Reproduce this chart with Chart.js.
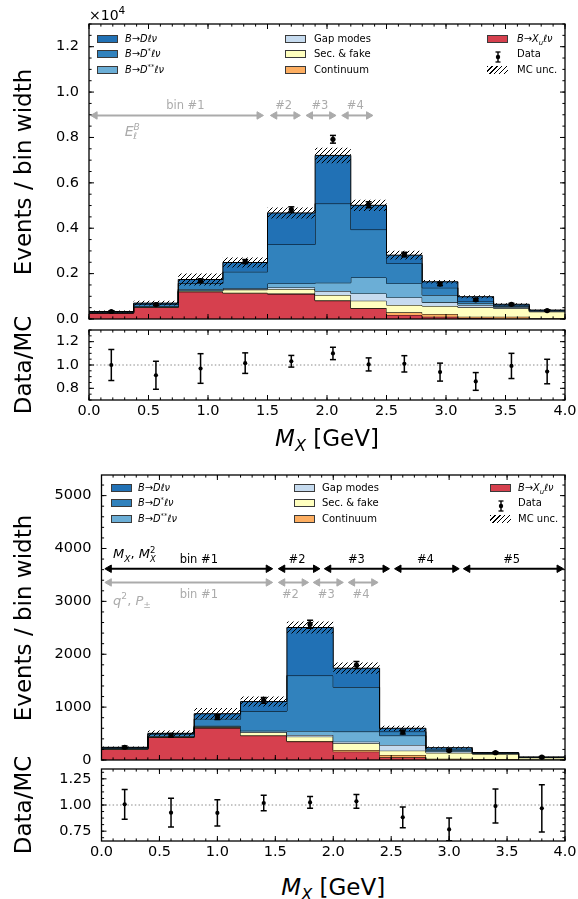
<!DOCTYPE html>
<html>
<head>
<meta charset="utf-8">
<script src="https://cdn.jsdelivr.net/npm/chart.js@4.4.1/dist/chart.umd.min.js"></script>
<style>
html,body{margin:0;padding:0;background:#fff;}
#wrap{position:relative;width:578px;height:899px;overflow:hidden;font-family:'DejaVu Sans',sans-serif;color:#000;}
#wrap canvas{position:absolute;left:0;}
.t{position:absolute;white-space:nowrap;line-height:1;}
.c{transform:translate(-50%,-50%);}
.lm{transform:translate(0,-50%);}
.rot{transform:translate(-50%,-50%) rotate(-90deg);}
.patch{position:absolute;width:21px;height:8px;border:1px solid #3a3a3a;box-sizing:border-box;transform:translateY(-50%);}
.hpatch{position:absolute;width:21px;height:8px;transform:translateY(-50%);background:repeating-linear-gradient(135deg,#000 0 1px,transparent 1px 3.4px);}
.leg{position:absolute;font-size:10px;white-space:nowrap;line-height:1;transform:translateY(-50%);}
.math{font-size:9.8px;}
sup,sub{line-height:0;font-size:70%;}
.ss{display:inline-block;vertical-align:-0.45em;font-size:65%;line-height:1.05;}
.ss span{display:block;}
</style>
</head>
<body>
<div id="wrap">
<canvas id="cA" width="600" height="339" style="top:0px"></canvas>
<canvas id="cAr" width="600" height="116" style="top:310px"></canvas>
<canvas id="cB" width="600" height="325" style="top:455px"></canvas>
<canvas id="cBr" width="600" height="121" style="top:749px"></canvas>
</div>
<script>
// ================= DATA =================
// --- upper figure (12 variable-width bins) ---
const edgesA = [0, 0.375, 0.75, 1.125, 1.5, 1.9, 2.2, 2.5, 2.8, 3.1, 3.4, 3.7, 4.0];
const xuA    = [260, 515, 1200, 1140, 1099,  806,  469, 180, 100,  40,  10,   5];
const contA  = [  5,   5,   10,   20,   25,   20,   20, 113, 120,  60,  90,  25];
const secA   = [ 10,  15,   35,  130,  195,  230,  317, 322, 351, 413, 370, 290];
const gapA   = [ 10,  10,   15,   30,   74,  176,  322, 337, 162, 102,  50,  25];
const dssA   = [ 10,  20,   60,   40,  176,  366,  703, 616, 322,  88,  40,  20];
const dsA    = [ 20,  80,  250,  720, 1714, 3488, 2110, 879, 322,  73,  30,  10];
const dA     = [ 15,  55,  170,  410, 1391, 2123, 1069, 366, 264, 206,  60,  20];
const uncA   = [ 45, 100,  260,  220,  240,  340,  250, 190,  80,  70,  40,  25];
const dataA    = [330, 637, 1690, 2530, 4823, 7920, 5035, 2840, 1541, 844, 645, 373];
const dataErrA = [ 30,  45,   75,   90,  120,  170,  130,  100,   70,  55,  45,  35];
const ratioA    = [1.000, 0.912, 0.970, 1.016, 1.032, 1.099, 1.005, 1.010, 0.939, 0.859, 0.992, 0.944];
const ratioErrA = [0.133, 0.120, 0.127, 0.088, 0.050, 0.053, 0.056, 0.070, 0.077, 0.076, 0.108, 0.105];

// --- lower figure (10 bins of 0.4 GeV) ---
const edgesB = [0, 0.4, 0.8, 1.2, 1.6, 2.0, 2.4, 2.8, 3.2, 3.6, 4.0];
const xuB    = [200, 430, 605, 460,  347, 158,  50,   5,  3,  1];
const contB  = [  3,   3,   8,  10,   10,  31,  45,  20, 15,  8];
const secB   = [  7,   8,  10,  50,   85, 127,  82, 110, 95, 35];
const gapB   = [  5,   5,  10,  15,   31,  31, 107,  25,  7,  3];
const dssB   = [  5,  10,  15,  20,   76, 190, 177,  25,  8,  3];
const dsB    = [ 12,  35, 130, 370, 1048, 839,  76,  25,  6,  2];
const dB     = [  8,  14,  97, 180,  909, 360,  63,  23,  6,  3];
const uncB   = [ 15,  55, 110,  95,  113, 107,  50,  20,  8,  5];
const dataB    = [241, 468, 809, 1126, 2569, 1797, 529, 179, 139, 53];
const dataErrB = [ 25,  35,  45,   55,   75,   65,  35,  20,  18, 12];
const ratioB    = [1.006, 0.927, 0.924, 1.019, 1.025, 1.035, 0.882, 0.767, 0.990, 0.968];
const ratioErrB = [0.143, 0.138, 0.125, 0.073, 0.057, 0.065, 0.099, 0.108, 0.162, 0.225];

// --- ticks ---
const xTicks = [0, 0.5, 1, 1.5, 2, 2.5, 3, 3.5, 4];
const xTickLabels = ['0.0','0.5','1.0','1.5','2.0','2.5','3.0','3.5','4.0'];
const yTicksA = [0, 2000, 4000, 6000, 8000, 10000, 12000];
const yTickLabelsA = ['0.0','0.2','0.4','0.6','0.8','1.0','1.2'];
const yTicksAr = [0.8, 1.0, 1.2];
const yTickLabelsAr = ['0.8','1.0','1.2'];
const yTicksB = [0, 1000, 2000, 3000, 4000, 5000];
const yTickLabelsB = ['0','1000','2000','3000','4000','5000'];
const yTicksBr = [0.75, 1.0, 1.25];
const yTickLabelsBr = ['0.75','1.00','1.25'];

// --- annotations (bin arrows) ---
const arrA_x1 = [0.02, 1.53, 1.83, 2.13];
const arrA_x2 = [1.46, 1.77, 2.07, 2.38];
const arrA_y = 8970;
const arrA_lbl = ['bin #1', '#2', '#3', '#4'];
const arrA_lblX = [0.81, 1.636, 1.94, 2.238];
const arrA_lblY = 9370;

const arrB_x1 = [0.036, 1.533, 1.93, 2.536, 3.13];
const arrB_x2 = [1.47, 1.878, 2.478, 3.08, 3.98];
const arrB_y = 3617;
const arrB_lbl = ['bin #1', '#2', '#3', '#4', '#5'];
const arrB_lblX = [0.84, 1.688, 2.2, 2.795, 3.54];
const arrB_lblY = 3790;

const arrBg_x1 = [0.036, 1.533, 1.834, 2.136];
const arrBg_x2 = [1.47, 1.78, 2.08, 2.38];
const arrBg_y = 3358;
const arrBg_lbl = ['bin #1', '#2', '#3', '#4'];
const arrBg_lblX = [0.84, 1.63, 1.94, 2.24];
const arrBg_lblY = 3125;

// ================= STYLE =================
const COLORS = {xu:'#d6404e', cont:'#fdae61', sec:'#ffffbf', gap:'#c6dbef', dss:'#6baed6', ds:'#3182bd', d:'#2171b5'};
const GRAY = '#ababab';
const TICK_FONT = {family:"'DejaVu Sans'", size:14.5};
const RIGHT_PAD = 35; // canvas is 600 wide, plot frame ends at x=565
Chart.defaults.font.family = "'DejaVu Sans'";

function makeHatch(){
  const s = 5, c = document.createElement('canvas'); c.width = s; c.height = s;
  const g = c.getContext('2d'); g.strokeStyle = '#000'; g.lineWidth = 1;
  g.beginPath();
  g.moveTo(0, s); g.lineTo(s, 0);
  g.moveTo(-1, 1); g.lineTo(1, -1);
  g.moveTo(s-1, s+1); g.lineTo(s+1, s-1);
  g.stroke();
  return g.createPattern(c, 'repeat');
}
const HATCH = makeHatch();

function steps(edges, vals){
  const pts = vals.map((v, i) => ({x: edges[i], y: v}));
  pts.push({x: edges[edges.length-1], y: vals[vals.length-1]});
  return pts;
}
function cumul(list){
  const out = []; let run = list[0].map(() => 0);
  for (const arr of list){ run = run.map((r, i) => r + arr[i]); out.push(run.slice()); }
  return out;
}
function centers(edges){ return edges.slice(0, -1).map((e, i) => (e + edges[i+1]) / 2); }
function errPts(xs, ys, es){
  const p = [];
  xs.forEach((x, i) => { p.push({x, y: ys[i]-es[i]}); p.push({x, y: ys[i]+es[i]}); p.push({x, y: null}); });
  return p;
}
function range(a, b, st){ const r = []; for (let v = a; v <= b + 1e-9; v += st) r.push(+v.toFixed(6)); return r; }

function stackDatasets(edges, comps, unc){
  const keys = ['xu','cont','sec','gap','dss','ds','d'];
  const cum = cumul(comps);
  const out = cum.map((c, k) => ({
    data: steps(edges, c), stepped: true, borderColor: '#000', borderWidth: 1,
    backgroundColor: COLORS[keys[k]], fill: k === 0 ? 'origin' : '-1',
    pointRadius: 0, order: 40 - k
  }));
  const tot = cum[cum.length-1];
  out.push({data: steps(edges, tot.map((t, i) => t - unc[i])), stepped: true, borderWidth: 0,
            borderColor: 'rgba(0,0,0,0)', fill: false, pointRadius: 0, order: 30});
  out.push({data: steps(edges, tot.map((t, i) => t + unc[i])), stepped: true, borderWidth: 0,
            borderColor: 'rgba(0,0,0,0)', backgroundColor: HATCH, fill: '-1', pointRadius: 0, order: 29});
  return out;
}
function dataDatasets(xs, ys, es, r, lw, cap){
  return [
    {data: errPts(xs, ys, es), borderColor: '#000', borderWidth: lw, pointStyle: 'line', pointRadius: cap,
     pointBorderWidth: lw, pointBorderColor: '#000', spanGaps: false, fill: false, order: 6},
    {data: xs.map((x, i) => ({x, y: ys[i]})), showLine: false, pointStyle: 'circle', pointRadius: r,
     pointBackgroundColor: '#000', pointBorderWidth: 0, fill: false, order: 5}
  ];
}
const AO = 0.03;
function arrowDs(x1, x2, y, color){
  return {data: [{x: x1 + AO, y}, {x: x2 - AO, y}], borderColor: color, borderWidth: 2,
          pointStyle: 'triangle', pointRadius: 4.3, pointRotation: [-90, 90],
          pointBackgroundColor: color, pointBorderColor: color, pointBorderWidth: 1, fill: false, order: 8};
}
function refLine(){
  return {data: [{x: 0, y: 1}, {x: 4, y: 1}], borderColor: '#8a8a8a', borderWidth: 1,
          borderDash: [1.5, 2.2], pointRadius: 0, fill: false, order: 20};
}

const framePlugin = {
  id: 'frame',
  afterDraw(chart, args, o){
    const {ctx, chartArea: a} = chart;
    const xs = chart.scales.x, ys = chart.scales.y;
    ctx.save();
    ctx.strokeStyle = '#000'; ctx.lineWidth = 1;
    ctx.beginPath();
    const vt = (vals, len) => vals.forEach(v => {
      const p = xs.getPixelForValue(v);
      if (p < a.left - 0.1 || p > a.right + 0.1) return;
      ctx.moveTo(p, a.bottom); ctx.lineTo(p, a.bottom - len);
      ctx.moveTo(p, a.top); ctx.lineTo(p, a.top + len);
    });
    const ht = (vals, len) => vals.forEach(v => {
      const p = ys.getPixelForValue(v);
      if (p < a.top - 0.1 || p > a.bottom + 0.1) return;
      ctx.moveTo(a.left, p); ctx.lineTo(a.left + len, p);
      ctx.moveTo(a.right, p); ctx.lineTo(a.right - len, p);
    });
    vt(o.xMajor, 5); vt(o.xMinor, 2.6); ht(o.yMajor, 5); ht(o.yMinor, 2.6);
    ctx.stroke();
    ctx.lineWidth = 1.3;
    ctx.strokeRect(a.left, a.top, a.right - a.left, a.bottom - a.top);
    ctx.restore();
  }
};

function makeChart(id, cfg){
  const xScale = cfg.xShow ? {
    type: 'linear', min: 0, max: 4,
    afterFit: s => { s.height = cfg.xH; },
    afterBuildTicks: s => { s.ticks = xTicks.map(v => ({value: v})); },
    ticks: {callback: (v, i) => xTickLabels[i], font: TICK_FONT, color: '#000', padding: 3,
            maxRotation: 0, minRotation: 0, autoSkip: false},
    grid: {display: false, drawTicks: false}, border: {display: false}
  } : {type: 'linear', min: 0, max: 4, display: false};
  return new Chart(document.getElementById(id), {
    type: 'line',
    data: {datasets: cfg.datasets},
    options: {
      responsive: false, animation: false, events: [],
      layout: {padding: {top: cfg.padTop, bottom: cfg.padBottom || 0, left: 0, right: RIGHT_PAD}},
      plugins: {legend: {display: false}, tooltip: {enabled: false},
                frame: {xMajor: xTicks, xMinor: range(0, 4, 0.1), yMajor: cfg.yTicks, yMinor: cfg.yMinor}},
      scales: {
        x: xScale,
        y: {type: 'linear', min: cfg.ymin, max: cfg.ymax,
            afterFit: s => { s.width = cfg.yW; },
            afterBuildTicks: s => { s.ticks = cfg.yTicks.map(v => ({value: v})); },
            ticks: {callback: (v, i) => cfg.yLabels[i], font: TICK_FONT, color: '#000', padding: 10, autoSkip: false},
            grid: {display: false, drawTicks: false}, border: {display: false}}
      }
    },
    plugins: [framePlugin]
  });
}

// ================= BUILD CHARTS =================
const TOP_A = 0, TOP_AR = 310, TOP_B = 455, TOP_BR = 749;
const cenA = centers(edgesA), cenB = centers(edgesB);
const compsA = [xuA, contA, secA, gapA, dssA, dsA, dA];
const compsB = [xuB, contB, secB, gapB, dssB, dsB, dB];

const dsA_all = stackDatasets(edgesA, compsA, uncA)
  .concat(dataDatasets(cenA, dataA, dataErrA, 2.6, 1.5, 3))
  .concat(arrA_x1.map((x, i) => arrowDs(x, arrA_x2[i], arrA_y, GRAY)));
const chartA = makeChart('cA', {padTop: 24, padBottom: 20, yW: 89, xShow: false, ymin: 0, ymax: 13000,
  yTicks: yTicksA, yLabels: yTickLabelsA, yMinor: range(0, 13000, 500), datasets: dsA_all});

const chartAr = makeChart('cAr', {padTop: 20, xH: 26, yW: 89, xShow: true, ymin: 0.7, ymax: 1.3,
  yTicks: yTicksAr, yLabels: yTickLabelsAr, yMinor: range(0.7, 1.3, 0.05),
  datasets: [refLine()].concat(dataDatasets(cenA, ratioA, ratioErrA, 2.1, 1.5, 3))});

const dsB_all = stackDatasets(edgesB, compsB, uncB)
  .concat(dataDatasets(cenB, dataB, dataErrB, 2.6, 1.5, 3))
  .concat(arrB_x1.map((x, i) => arrowDs(x, arrB_x2[i], arrB_y, '#000')))
  .concat(arrBg_x1.map((x, i) => arrowDs(x, arrBg_x2[i], arrBg_y, GRAY)));
const chartB = makeChart('cB', {padTop: 20, padBottom: 20, yW: 101.5, xShow: false, ymin: 0, ymax: 5390,
  yTicks: yTicksB, yLabels: yTickLabelsB, yMinor: range(0, 5390, 200), datasets: dsB_all});

const chartBr = makeChart('cBr', {padTop: 20, xH: 29, yW: 101.5, xShow: true, ymin: 0.656, ymax: 1.344,
  yTicks: yTicksBr, yLabels: yTickLabelsBr, yMinor: range(0.6875, 1.344, 0.0625),
  datasets: [refLine()].concat(dataDatasets(cenB, ratioB, ratioErrB, 2.1, 1.5, 3))});

// ================= TEXT OVERLAYS =================
const wrap = document.getElementById('wrap');
function addText(html, x, y, cls, style){
  const d = document.createElement('div');
  d.className = 't ' + (cls || '');
  d.innerHTML = html;
  d.style.left = x + 'px'; d.style.top = y + 'px';
  Object.assign(d.style, style || {});
  wrap.appendChild(d);
  return d;
}
function px(chart, top, xv, yv){ return [chart.scales.x.getPixelForValue(xv), top + chart.scales.y.getPixelForValue(yv)]; }
function midY(chart, top){ return top + (chart.chartArea.top + chart.chartArea.bottom) / 2; }
function midX(chart){ return (chart.chartArea.left + chart.chartArea.right) / 2; }

// axis titles
const TITLE = {fontSize: '23px'};
addText('Events / bin width', 23, midY(chartA, TOP_A), 'rot', TITLE);
addText('Data/MC', 23, midY(chartAr, TOP_AR), 'rot', TITLE);
addText('<i>M</i><sub><i>X</i></sub> [GeV]', midX(chartAr), 438, 'c', TITLE);
addText('Events / bin width', 23, midY(chartB, TOP_B), 'rot', TITLE);
addText('Data/MC', 23, midY(chartBr, TOP_BR), 'rot', TITLE);
addText('<i>M</i><sub><i>X</i></sub> [GeV]', midX(chartBr), 887, 'c', TITLE);
addText('×10<sup style="font-size:75%;vertical-align:0.6em">4</sup>', 89, 8, '', {fontSize: '14px'});

// bin annotations, upper
arrA_lbl.forEach((l, i) => { const [x, y] = px(chartA, TOP_A, arrA_lblX[i], arrA_lblY); addText(l, x, y, 'c', {fontSize: '11.5px', color: GRAY}); });
(() => { const [x, y] = px(chartA, TOP_A, 0.3, 8212);
  addText('<i>E</i><span class="ss"><span><i>B</i></span><span><i>ℓ</i></span></span>', x, y, 'lm', {fontSize: '14px', color: GRAY}); })();
// bin annotations, lower
arrB_lbl.forEach((l, i) => { const [x, y] = px(chartB, TOP_B, arrB_lblX[i], arrB_lblY); addText(l, x, y, 'c', {fontSize: '11.5px'}); });
arrBg_lbl.forEach((l, i) => { const [x, y] = px(chartB, TOP_B, arrBg_lblX[i], arrBg_lblY); addText(l, x, y, 'c', {fontSize: '11.5px', color: GRAY}); });
(() => { const [x, y] = px(chartB, TOP_B, 0.1, 3883);
  addText('<i>M</i><sub><i>X</i></sub>, <i>M</i><span class="ss"><span>2</span><span><i>X</i></span></span>', x, y, 'lm', {fontSize: '13px'}); })();
(() => { const [x, y] = px(chartB, TOP_B, 0.1, 3017);
  addText('<i>q</i><sup>2</sup>, <i>P</i><sub>±</sub>', x, y, 'lm', {fontSize: '13px', color: GRAY}); })();

// ================= LEGENDS =================
const legendLabels = [
  '<i>B</i>→<i>Dℓν</i>', '<i>B</i>→<i>D</i><sup>*</sup><i>ℓν</i>', '<i>B</i>→<i>D</i><sup>**</sup><i>ℓν</i>',
  'Gap modes', 'Sec. &amp; fake', 'Continuum',
  '<i>B</i>→<i>X</i><sub><i>u</i></sub><i>ℓν</i>', 'Data', 'MC unc.'
];
const legendKinds = ['d','ds','dss','gap','sec','cont','xu','data','unc'];
const legendMath = [true, true, true, false, false, false, true, false, false];
function buildLegend(rowsY, patchX, textX){
  legendLabels.forEach((lab, i) => {
    const col = Math.floor(i / 3), row = i % 3, y = rowsY[row];
    const k = legendKinds[i];
    if (k === 'data'){
      const s = document.createElement('div');
      s.style.cssText = `position:absolute;left:${patchX[col]+6}px;top:${y-6}px;width:10px;height:12px;`;
      s.innerHTML = '<svg width="10" height="12"><line x1="5" y1="1" x2="5" y2="11" stroke="#000" stroke-width="1.4"/><line x1="2.5" y1="1" x2="7.5" y2="1" stroke="#000" stroke-width="1.3"/><line x1="2.5" y1="11" x2="7.5" y2="11" stroke="#000" stroke-width="1.3"/><circle cx="5" cy="6" r="2.2" fill="#000"/></svg>';
      wrap.appendChild(s);
    } else if (k === 'unc'){
      const s = document.createElement('div'); s.className = 'hpatch';
      s.style.left = patchX[col] + 'px'; s.style.top = y + 'px'; wrap.appendChild(s);
    } else {
      const s = document.createElement('div'); s.className = 'patch';
      s.style.left = patchX[col] + 'px'; s.style.top = y + 'px'; s.style.background = COLORS[k]; wrap.appendChild(s);
    }
    const t = document.createElement('div');
    t.className = 'leg' + (legendMath[i] ? ' math' : '');
    t.innerHTML = lab; t.style.left = textX[col] + 'px'; t.style.top = y + 'px';
    wrap.appendChild(t);
  });
}
buildLegend([38.5, 54, 70], [97, 285, 487], [125, 314, 517]);
buildLegend([487.5, 503, 518.5], [111, 294, 490], [138, 322, 518]);
</script>
</body>
</html>
